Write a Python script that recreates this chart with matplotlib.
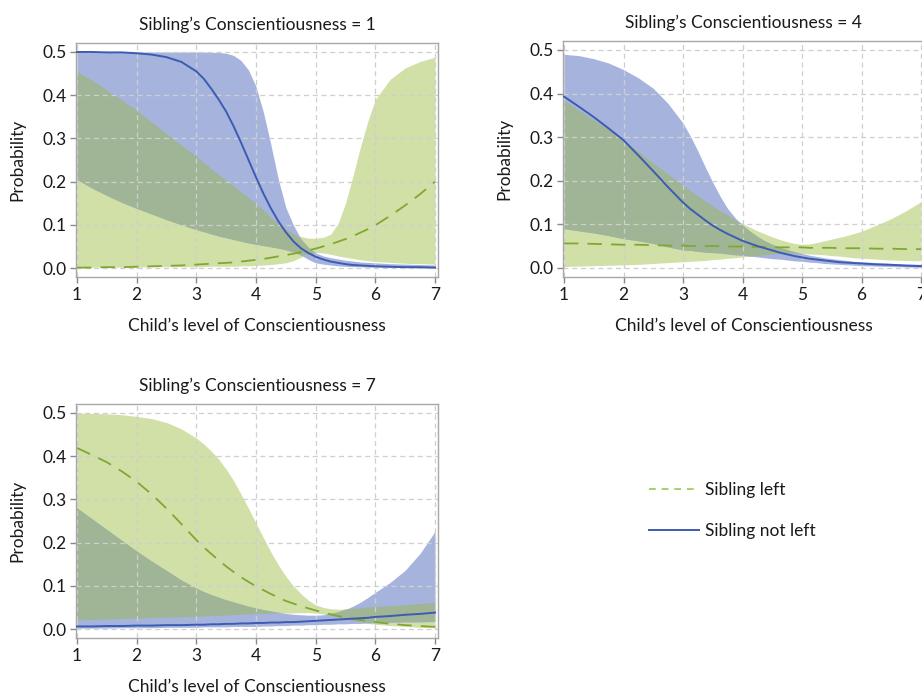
import numpy as np
import matplotlib
matplotlib.use("Agg")
import matplotlib.pyplot as plt
from matplotlib.lines import Line2D

plt.rcParams['font.family'] = ['Lato', 'DejaVu Sans']

# ---------------- data ----------------
child_level = [1.0, 1.25, 1.5, 1.75, 2.0, 2.25, 2.5, 2.75, 3.0, 3.125, 3.25, 3.375,
               3.5, 3.625, 3.75, 3.875, 4.0, 4.125, 4.25, 4.375, 4.5, 4.625, 4.75, 4.875,
               5.0, 5.125, 5.25, 5.375, 5.5, 5.625, 5.75, 5.875, 6.0, 6.25, 6.5, 6.75, 7.0]
x_ticks = [1, 2, 3, 4, 5, 6, 7]
y_ticks = [0.0, 0.1, 0.2, 0.3, 0.4, 0.5]
panel_titles = ["Sibling\u2019s Conscientiousness = 1",
                "Sibling\u2019s Conscientiousness = 4",
                "Sibling\u2019s Conscientiousness = 7"]
series_labels = ["Sibling left", "Sibling not left"]

# Sibling's Conscientiousness = 1
s1_notleft_mid = [0.500, 0.500, 0.499, 0.499, 0.497, 0.494, 0.488, 0.477, 0.455, 0.438, 0.415, 0.390,
                  0.362, 0.328, 0.290, 0.250, 0.210, 0.172, 0.138, 0.108, 0.083, 0.062, 0.046, 0.035,
                  0.026, 0.020, 0.015, 0.012, 0.009, 0.007, 0.006, 0.005, 0.004, 0.003, 0.002, 0.002, 0.001]
s1_notleft_hi = [0.500, 0.500, 0.500, 0.500, 0.500, 0.500, 0.500, 0.500, 0.500, 0.500, 0.499, 0.499,
                 0.497, 0.492, 0.480, 0.458, 0.420, 0.360, 0.285, 0.205, 0.140, 0.100, 0.068, 0.048,
                 0.035, 0.028, 0.024, 0.021, 0.018, 0.016, 0.014, 0.013, 0.012, 0.010, 0.009, 0.008, 0.007]
s1_notleft_lo = [0.205, 0.185, 0.168, 0.152, 0.138, 0.125, 0.112, 0.100, 0.089, 0.084, 0.079, 0.074,
                 0.070, 0.066, 0.062, 0.058, 0.055, 0.052, 0.049, 0.046, 0.042, 0.037, 0.030, 0.020,
                 0.012, 0.009, 0.007, 0.005, 0.004, 0.003, 0.003, 0.002, 0.002, 0.001, 0.001, 0.000, 0.000]
s1_left_mid = [0.001, 0.001, 0.002, 0.002, 0.003, 0.004, 0.005, 0.006, 0.008, 0.009, 0.010, 0.011,
               0.012, 0.013, 0.015, 0.017, 0.019, 0.021, 0.024, 0.027, 0.030, 0.033, 0.037, 0.041,
               0.045, 0.050, 0.055, 0.061, 0.067, 0.074, 0.082, 0.090, 0.099, 0.121, 0.145, 0.171, 0.200]
s1_left_hi = [0.455, 0.435, 0.412, 0.389, 0.365, 0.338, 0.311, 0.284, 0.258, 0.244, 0.230, 0.216,
              0.203, 0.190, 0.176, 0.163, 0.150, 0.134, 0.118, 0.103, 0.090, 0.080, 0.073, 0.069,
              0.069, 0.071, 0.078, 0.103, 0.150, 0.213, 0.280, 0.340, 0.390, 0.437, 0.463, 0.478, 0.488]
s1_left_lo = [0.002, 0.002, 0.002, 0.002, 0.002, 0.003, 0.003, 0.003, 0.003, 0.003, 0.004, 0.004,
              0.004, 0.004, 0.005, 0.005, 0.006, 0.007, 0.008, 0.010, 0.012, 0.017, 0.025, 0.032,
              0.036, 0.035, 0.032, 0.028, 0.025, 0.022, 0.019, 0.017, 0.015, 0.013, 0.011, 0.010, 0.009]

# Sibling's Conscientiousness = 4
s4_notleft_mid = [0.393, 0.370, 0.346, 0.320, 0.293, 0.258, 0.222, 0.185, 0.150, 0.135, 0.122, 0.109,
                  0.097, 0.087, 0.078, 0.070, 0.062, 0.056, 0.050, 0.045, 0.040, 0.035, 0.031, 0.027,
                  0.024, 0.021, 0.019, 0.017, 0.015, 0.013, 0.012, 0.011, 0.010, 0.008, 0.007, 0.005, 0.004]
s4_notleft_hi = [0.490, 0.487, 0.480, 0.470, 0.455, 0.436, 0.412, 0.377, 0.332, 0.302, 0.268, 0.231,
                 0.196, 0.164, 0.136, 0.115, 0.098, 0.084, 0.072, 0.062, 0.054, 0.047, 0.042, 0.037,
                 0.033, 0.029, 0.026, 0.023, 0.021, 0.019, 0.017, 0.015, 0.014, 0.012, 0.010, 0.009, 0.008]
s4_notleft_lo = [0.090, 0.085, 0.080, 0.074, 0.067, 0.062, 0.056, 0.048, 0.041, 0.040, 0.038, 0.036,
                 0.035, 0.034, 0.032, 0.030, 0.029, 0.027, 0.025, 0.023, 0.021, 0.020, 0.018, 0.016,
                 0.015, 0.013, 0.012, 0.010, 0.009, 0.008, 0.007, 0.006, 0.005, 0.004, 0.003, 0.002, 0.001]
s4_left_mid = [0.056, 0.056, 0.055, 0.054, 0.053, 0.053, 0.052, 0.051, 0.051, 0.050, 0.050, 0.050,
               0.050, 0.050, 0.049, 0.049, 0.049, 0.048, 0.048, 0.048, 0.048, 0.047, 0.047, 0.047,
               0.047, 0.046, 0.046, 0.046, 0.046, 0.045, 0.045, 0.045, 0.045, 0.044, 0.044, 0.043, 0.043]
s4_left_hi = [0.385, 0.362, 0.340, 0.317, 0.293, 0.267, 0.240, 0.215, 0.190, 0.177, 0.165, 0.153,
              0.142, 0.131, 0.121, 0.111, 0.102, 0.093, 0.085, 0.078, 0.071, 0.065, 0.060, 0.056,
              0.054, 0.055, 0.058, 0.062, 0.066, 0.070, 0.074, 0.079, 0.084, 0.098, 0.113, 0.131, 0.152]
s4_left_lo = [0.003, 0.004, 0.005, 0.006, 0.007, 0.008, 0.010, 0.012, 0.014, 0.015, 0.016, 0.017,
              0.019, 0.020, 0.022, 0.023, 0.025, 0.027, 0.029, 0.030, 0.032, 0.033, 0.034, 0.034,
              0.033, 0.032, 0.031, 0.030, 0.028, 0.027, 0.025, 0.023, 0.022, 0.020, 0.018, 0.017, 0.016]

# Sibling's Conscientiousness = 7
s7_notleft_mid = [0.006, 0.006, 0.007, 0.007, 0.008, 0.008, 0.009, 0.009, 0.010, 0.010, 0.011, 0.011,
                  0.012, 0.012, 0.013, 0.013, 0.014, 0.014, 0.015, 0.015, 0.016, 0.016, 0.017, 0.018,
                  0.019, 0.020, 0.021, 0.022, 0.023, 0.024, 0.025, 0.026, 0.028, 0.030, 0.033, 0.035, 0.038]
s7_notleft_hi = [0.280, 0.255, 0.230, 0.205, 0.180, 0.157, 0.135, 0.113, 0.094, 0.086, 0.079, 0.073,
                 0.067, 0.062, 0.057, 0.052, 0.048, 0.044, 0.041, 0.038, 0.036, 0.034, 0.033, 0.032,
                 0.032, 0.033, 0.035, 0.039, 0.045, 0.053, 0.062, 0.073, 0.085, 0.108, 0.136, 0.175, 0.226]
s7_notleft_lo = [0.002, 0.002, 0.002, 0.003, 0.003, 0.003, 0.004, 0.004, 0.004, 0.005, 0.005, 0.005,
                 0.005, 0.006, 0.006, 0.006, 0.006, 0.007, 0.007, 0.008, 0.008, 0.009, 0.009, 0.010,
                 0.010, 0.011, 0.011, 0.012, 0.012, 0.013, 0.013, 0.014, 0.014, 0.015, 0.016, 0.016, 0.017]
s7_left_mid = [0.419, 0.403, 0.386, 0.365, 0.341, 0.312, 0.279, 0.243, 0.206, 0.189, 0.174, 0.159,
               0.145, 0.132, 0.120, 0.109, 0.099, 0.090, 0.081, 0.073, 0.065, 0.059, 0.053, 0.048,
               0.043, 0.038, 0.034, 0.030, 0.027, 0.024, 0.021, 0.018, 0.016, 0.012, 0.009, 0.007, 0.005]
s7_left_hi = [0.500, 0.499, 0.498, 0.496, 0.492, 0.487, 0.478, 0.463, 0.442, 0.428, 0.412, 0.393,
              0.370, 0.343, 0.312, 0.279, 0.245, 0.211, 0.178, 0.148, 0.122, 0.100, 0.082, 0.067,
              0.056, 0.050, 0.047, 0.046, 0.046, 0.047, 0.048, 0.050, 0.051, 0.053, 0.055, 0.058, 0.060]
s7_left_lo = [0.020, 0.021, 0.022, 0.023, 0.024, 0.025, 0.026, 0.027, 0.028, 0.029, 0.030, 0.030,
              0.031, 0.032, 0.033, 0.034, 0.035, 0.035, 0.036, 0.036, 0.037, 0.037, 0.038, 0.038,
              0.037, 0.035, 0.031, 0.027, 0.023, 0.019, 0.016, 0.013, 0.011, 0.008, 0.006, 0.004, 0.003]

# ---------------- style ----------------
BLUE_FILL = '#a6b4dd'
GREEN_FILL = '#d0e0a7'
OVERLAP_FILL = '#9fb595'
BLUE_LINE = '#3d5bb3'
GREEN_LINE = '#80a830'
GREEN_LEGEND = '#a8cf6a'
FRAME = '#a8a8a8'
TEXT = '#1a1a1a'

W, H = 922, 697
fig = plt.figure(figsize=(W / 100, H / 100), dpi=100)
fig.patch.set_facecolor('white')

XLIM = (0.99, 7.05)
YLIM = (-0.021, 0.521)


def px_axes(left, top, right, bottom):
    return fig.add_axes([left / W, 1 - bottom / H, (right - left) / W, (bottom - top) / H])


panels = [
    (px_axes(76.4, 42.9, 438.0, 277.1), panel_titles[0],
     s1_notleft_lo, s1_notleft_mid, s1_notleft_hi, s1_left_lo, s1_left_mid, s1_left_hi),
    (px_axes(563.4, 40.8, 924.0, 277.0), panel_titles[1],
     s4_notleft_lo, s4_notleft_mid, s4_notleft_hi, s4_left_lo, s4_left_mid, s4_left_hi),
    (px_axes(76.4, 403.9, 438.0, 638.1), panel_titles[2],
     s7_notleft_lo, s7_notleft_mid, s7_notleft_hi, s7_left_lo, s7_left_mid, s7_left_hi),
]

xs = np.array(child_level)
for ax, title, b_lo, b_mid, b_hi, g_lo, g_mid, g_hi in panels:
    b_lo, b_mid, b_hi = map(np.array, (b_lo, b_mid, b_hi))
    g_lo, g_mid, g_hi = map(np.array, (g_lo, g_mid, g_hi))
    ax.fill_between(xs, g_lo, g_hi, color=GREEN_FILL, lw=0, zorder=1)
    ax.fill_between(xs, b_lo, b_hi, color=BLUE_FILL, lw=0, zorder=1)
    o_lo = np.maximum(b_lo, g_lo)
    o_hi = np.minimum(b_hi, g_hi)
    ax.fill_between(xs, o_lo, o_hi, where=o_hi > o_lo, interpolate=True,
                    color=OVERLAP_FILL, lw=0, zorder=1)
    ax.plot(xs, g_mid, color=GREEN_LINE, lw=1.3, dashes=(8, 5), zorder=3)
    ax.plot(xs, b_mid, color=BLUE_LINE, lw=1.4, zorder=3)

    ax.set_xlim(*XLIM)
    ax.set_ylim(*YLIM)
    ax.set_xticks(x_ticks)
    ax.set_yticks(y_ticks)
    ax.set_yticklabels([f"{v:.1f}" for v in y_ticks])
    ax.set_axisbelow('line')
    ax.grid(True, color='#cfcfcf', linestyle=(0, (4, 3)), linewidth=0.9)
    for sp in ax.spines.values():
        sp.set_color(FRAME)
        sp.set_linewidth(1.0)
    ax.tick_params(axis='both', direction='out', length=4, width=1, color='#888888',
                   labelsize=12.5, labelcolor=TEXT, pad=3)
    ax.set_title(title, fontsize=12.5, color=TEXT, pad=9)
    ax.set_xlabel("Child\u2019s level of Conscientiousness", fontsize=12.5, color=TEXT, labelpad=11)
    ax.set_ylabel("Probability", fontsize=12.5, color=TEXT, labelpad=12)

handles = [Line2D([], [], color=GREEN_LEGEND, lw=1.4, dashes=(3.5, 3)),
           Line2D([], [], color=BLUE_LINE, lw=1.4)]
fig.legend(handles, series_labels, loc='upper left',
           bbox_to_anchor=(633 / W, 1 - 466 / H), frameon=False,
           fontsize=12.5, handlelength=2.9, handletextpad=0.35, labelspacing=1.45,
           labelcolor=TEXT)

fig.savefig("out.png", dpi=100, facecolor='white')
